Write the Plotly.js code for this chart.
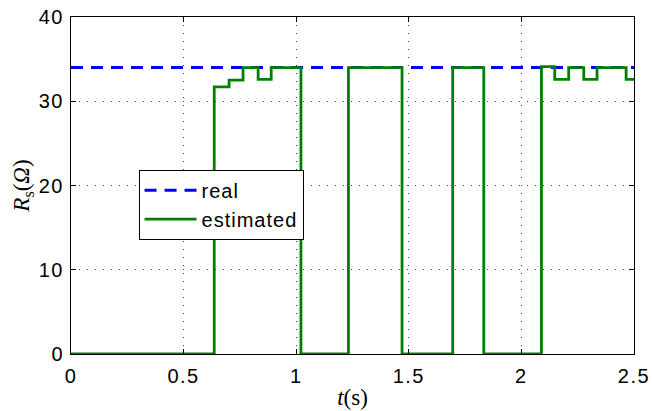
<!DOCTYPE html>
<html><head><meta charset="utf-8">
<script src="https://cdn.plot.ly/plotly-3.0.1.min.js"></script>
<style>
html,body{margin:0;padding:0;background:#fff}
.legendtext{letter-spacing:1px}
.xtick text,.ytick text{letter-spacing:1.5px}
</style>
</head><body><div id="c" style="width:653px;height:411px"></div>
<script>
var tReal = [0, 2.5];
var rReal = [34, 34];
var tEst = [0, 0.636, 0.702, 0.764, 0.831, 0.889, 1.021, 1.232, 1.470, 1.695, 1.833, 2.089, 2.148, 2.210, 2.277, 2.336, 2.465, 2.5];
var rEst = [0, 31.7, 32.5, 34, 32.6, 34, 0, 34, 0, 34, 0, 34.1, 32.6, 34, 32.6, 34, 32.6, 32.6];
var xTicks = [0, 0.5, 1, 1.5, 2, 2.5];
var xTickText = ['0', '0.5', '1', '1.5', '2', '2.5'];
var yTicks = [0, 10, 20, 30, 40];

var traces = [
  {x: tReal, y: rReal, mode: 'lines', name: 'real',
   line: {color: '#0000ff', width: 3, dash: '12px,8px'}},
  {x: tEst, y: rEst, mode: 'lines', name: 'estimated',
   line: {color: '#008000', width: 2.8, shape: 'hv'}}
];
var axisCommon = {
  showline: true, linecolor: '#000', linewidth: 1, mirror: 'ticks',
  ticks: 'inside', ticklen: 5, tickcolor: '#000',
  showgrid: true, gridcolor: '#444', griddash: '1px,7px', gridwidth: 1,
  zeroline: false,
  tickfont: {family: 'Liberation Sans, Arial, sans-serif', size: 20, color: '#000'}
};
var layout = {
  width: 653, height: 411,
  margin: {l: 71, r: 19, t: 17, b: 57},
  paper_bgcolor: '#fff', plot_bgcolor: '#fff',
  showlegend: true,
  legend: {x: 0.12, y: 0.547, xanchor: 'left', yanchor: 'top',
    bordercolor: '#000', borderwidth: 1, bgcolor: '#fff', itemwidth: 52,
    font: {family: 'Liberation Sans, Arial, sans-serif', size: 20, color: '#000'},
    tracegroupgap: 0},
  xaxis: Object.assign({}, axisCommon, {range: [0, 2.5], tickvals: xTicks, ticktext: xTickText,
    ticklabelstandoff: 4,
    title: {text: '<i>t</i>(s)', font: {family: 'Liberation Serif, serif', size: 23, color: '#000'}, standoff: 2}}),
  yaxis: Object.assign({}, axisCommon, {range: [0, 40], tickvals: yTicks,
    ticklabelstandoff: 2,
    title: {text: '<i>R</i><sub>s</sub>(<i>Ω</i>)', font: {family: 'Liberation Serif, serif', size: 23, color: '#000'}, standoff: 2}})
};
Plotly.newPlot('c', traces, layout, {displayModeBar: false, staticPlot: true});
</script></body></html>
